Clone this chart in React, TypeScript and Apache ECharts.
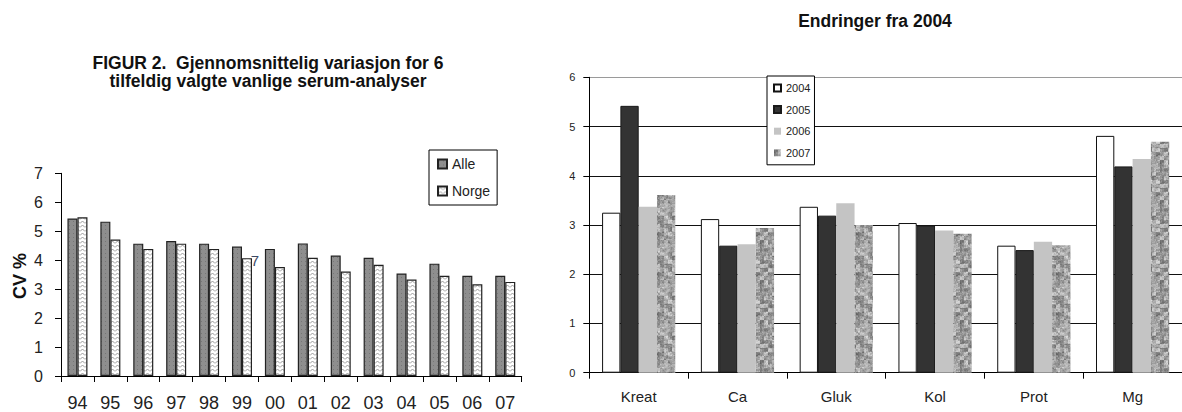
import React, { useEffect, useRef } from "react";
import * as echarts from "echarts";

// ---- Left chart data (FIGUR 2) ----
const yearLabels = ["94", "95", "96", "97", "98", "99", "00", "01", "02", "03", "04", "05", "06", "07"];
const alleValues = [5.44, 5.33, 4.57, 4.66, 4.57, 4.47, 4.39, 4.58, 4.16, 4.08, 3.54, 3.88, 3.46, 3.46];
const norgeValues = [5.48, 4.71, 4.39, 4.57, 4.39, 4.07, 3.76, 4.08, 3.61, 3.84, 3.33, 3.46, 3.17, 3.25];
const leftSeriesNames = ["Alle", "Norge"];

// ---- Right chart data (Endringer fra 2004) ----
const analytes = ["Kreat", "Ca", "Gluk", "Kol", "Prot", "Mg"];
const values2004 = [3.25, 3.12, 3.37, 3.04, 2.58, 4.81];
const values2005 = [5.42, 2.58, 3.19, 2.99, 2.49, 4.19];
const values2006 = [3.37, 2.61, 3.44, 2.89, 2.66, 4.34];
const values2007 = [3.61, 2.94, 3.0, 2.82, 2.59, 4.69];
const rightSeriesNames = ["2004", "2005", "2006", "2007"];

const FONT = "'Liberation Sans', Arial, Helvetica, sans-serif";

function makeCanvas(w: number, h: number, draw: (ctx: CanvasRenderingContext2D) => void) {
  const c = document.createElement("canvas");
  c.width = w;
  c.height = h;
  const ctx = c.getContext("2d") as CanvasRenderingContext2D;
  draw(ctx);
  return c;
}

function toPattern(c: HTMLCanvasElement) {
  return { image: c.toDataURL(), repeat: "repeat", imageWidth: c.width, imageHeight: c.height } as any;
}

function hash(x: number, y: number) {
  const s = Math.sin(x * 12.9898 + y * 78.233) * 43758.5453;
  return s - Math.floor(s);
}

export default function App() {
  const ref = useRef<HTMLDivElement>(null);

  useEffect(() => {
    if (!ref.current) return;
    const chart = echarts.init(ref.current, undefined, { renderer: "svg" });

    const alleFill = toPattern(
      makeCanvas(4, 4, (ctx) => {
        ctx.fillStyle = "#8e8e8e";
        ctx.fillRect(0, 0, 4, 4);
        ctx.fillStyle = "#767676";
        ctx.fillRect(1, 1, 1, 1);
      })
    );
    const norgeFill = toPattern(
      makeCanvas(5, 4, (ctx) => {
        ctx.fillStyle = "#ffffff";
        ctx.fillRect(0, 0, 5, 4);
        ctx.strokeStyle = "#999999";
        ctx.lineWidth = 1;
        ctx.beginPath();
        ctx.moveTo(0, 3.5);
        ctx.lineTo(2.5, 1);
        ctx.lineTo(5, 3.5);
        ctx.stroke();
      })
    );
    const graniteFill = toPattern(
      makeCanvas(40, 40, (ctx) => {
        for (let y = 0; y < 40; y++) {
          for (let x = 0; x < 40; x++) {
            const v =
              0.5 * hash(Math.floor(x / 4), Math.floor(y / 4)) +
              0.3 * hash(Math.floor((x + 2) / 2) + 57, Math.floor((y + 1) / 2) + 13) +
              0.2 * hash(x + 101, y + 37);
            const g = Math.round(95 + v * 135);
            ctx.fillStyle = `rgb(${g},${g},${g})`;
            ctx.fillRect(x, y, 1, 1);
          }
        }
      })
    );

    const axisText = { color: "#222", fontFamily: FONT };

    const option: any = {
      animation: false,
      backgroundColor: "#ffffff",
      grid: [
        { left: 61, top: 173.3, width: 460.7, height: 205.4 },
        { left: 589.3, top: 77.3, width: 603.6, height: 295.4 },
      ],
      xAxis: [
        {
          gridIndex: 0,
          type: "category",
          data: yearLabels,
          axisLine: { show: true, lineStyle: { color: "#000", width: 1 } },
          axisTick: { show: true, length: 6, lineStyle: { color: "#000" } },
          axisLabel: { ...axisText, fontSize: 18, margin: 18 },
          splitLine: { show: false },
        },
        {
          gridIndex: 1,
          type: "category",
          data: analytes,
          axisLine: { show: true, lineStyle: { color: "#000", width: 1 } },
          axisTick: { show: true, length: 6, lineStyle: { color: "#000" } },
          axisLabel: { ...axisText, fontSize: 15, margin: 16 },
          splitLine: { show: false },
        },
      ],
      yAxis: [
        {
          gridIndex: 0,
          type: "value",
          min: 0,
          max: 7,
          interval: 1,
          axisLine: { show: true, lineStyle: { color: "#000", width: 1 } },
          axisTick: { show: true, length: 6, lineStyle: { color: "#000" } },
          axisLabel: { ...axisText, fontSize: 16, margin: 18 },
          splitLine: { show: false },
        },
        {
          gridIndex: 1,
          type: "value",
          min: 0,
          max: 6,
          interval: 1,
          axisLine: { show: true, lineStyle: { color: "#000", width: 1 } },
          axisTick: { show: true, length: 6, lineStyle: { color: "#000" } },
          axisLabel: { ...axisText, fontSize: 11, margin: 14 },
          splitLine: {
            show: true,
            lineStyle: { color: ["#111", "#111", "#111", "#111", "#111", "#111", "#9a9a9a"], width: 1 },
          },
        },
      ],
      legend: [
        {
          data: leftSeriesNames,
          orient: "vertical",
          left: 429,
          top: 150,
          padding: [6, 7, 6, 8],
          itemGap: 11,
          itemWidth: 9,
          itemHeight: 9,
          icon: "rect",
          borderColor: "#000",
          borderWidth: 1,
          backgroundColor: "#fff",
          textStyle: { fontSize: 14, lineHeight: 16, color: "#222", fontFamily: FONT },
        },
        {
          data: rightSeriesNames,
          orient: "vertical",
          left: 767,
          top: 76,
          padding: [6, 4, 6, 6],
          itemGap: 9.6,
          itemWidth: 7,
          itemHeight: 7,
          icon: "rect",
          borderColor: "#000",
          borderWidth: 1,
          backgroundColor: "#fff",
          textStyle: { fontSize: 11, lineHeight: 12, color: "#222", fontFamily: FONT },
        },
      ],
      graphic: [
        {
          type: "text",
          x: 268,
          y: 63,
          style: {
            text: "FIGUR 2.  Gjennomsnittelig variasjon for 6",
            font: `bold 17.5px ${FONT}`,
            fill: "#111",
            textAlign: "center",
            textVerticalAlign: "middle",
          },
        },
        {
          type: "text",
          x: 268,
          y: 81,
          style: {
            text: "tilfeldig valgte vanlige serum-analyser",
            font: `bold 17.5px ${FONT}`,
            fill: "#111",
            textAlign: "center",
            textVerticalAlign: "middle",
          },
        },
        {
          type: "text",
          x: 20,
          y: 276,
          rotation: Math.PI / 2,
          style: {
            text: "CV %",
            font: `bold 18px ${FONT}`,
            fill: "#111",
            textAlign: "center",
            textVerticalAlign: "middle",
          },
        },
        {
          type: "text",
          x: 255,
          y: 260,
          style: {
            text: "7",
            font: `15px ${FONT}`,
            fill: "#3d4a66",
            textAlign: "center",
            textVerticalAlign: "middle",
          },
        },
        {
          type: "text",
          x: 875,
          y: 21,
          style: {
            text: "Endringer fra 2004",
            font: `bold 17.5px ${FONT}`,
            fill: "#111",
            textAlign: "center",
            textVerticalAlign: "middle",
          },
        },
      ],
      series: [
        {
          name: "Alle",
          type: "bar",
          xAxisIndex: 0,
          yAxisIndex: 0,
          data: alleValues,
          barWidth: 10,
          barGap: "0%",
          itemStyle: { color: alleFill, borderColor: "#222", borderWidth: 1.2 },
        },
        {
          name: "Norge",
          type: "bar",
          xAxisIndex: 0,
          yAxisIndex: 0,
          data: norgeValues,
          barWidth: 10,
          barGap: "0%",
          itemStyle: { color: norgeFill, borderColor: "#222", borderWidth: 1.2 },
        },
        {
          name: "2004",
          type: "bar",
          xAxisIndex: 1,
          yAxisIndex: 1,
          data: values2004,
          barWidth: 18.3,
          barGap: "0%",
          itemStyle: { color: "#ffffff", borderColor: "#111", borderWidth: 1 },
        },
        {
          name: "2005",
          type: "bar",
          xAxisIndex: 1,
          yAxisIndex: 1,
          data: values2005,
          barWidth: 18.3,
          barGap: "0%",
          itemStyle: { color: "#333333", borderColor: "#1a1a1a", borderWidth: 1 },
        },
        {
          name: "2006",
          type: "bar",
          xAxisIndex: 1,
          yAxisIndex: 1,
          data: values2006,
          barWidth: 18.3,
          barGap: "0%",
          itemStyle: { color: "#c4c4c4" },
        },
        {
          name: "2007",
          type: "bar",
          xAxisIndex: 1,
          yAxisIndex: 1,
          data: values2007,
          barWidth: 18.3,
          barGap: "0%",
          itemStyle: { color: graniteFill },
        },
      ],
    };

    chart.setOption(option);
    return () => chart.dispose();
  }, []);

  return (
    <div
      ref={ref}
      style={{ position: "fixed", left: 0, top: 0, width: 1182, height: 412, background: "#fff" }}
    />
  );
}
